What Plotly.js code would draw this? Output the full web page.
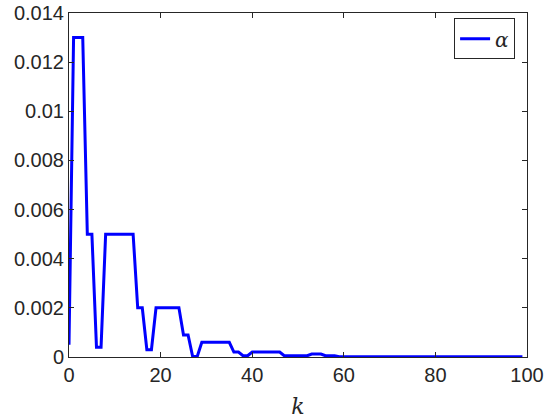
<!DOCTYPE html>
<html>
<head>
<meta charset="utf-8">
<script src="https://cdn.plot.ly/plotly-3.0.1.min.js"></script>
<style>
  html, body { margin: 0; padding: 0; background: #fff; }
  #chart { width: 550px; height: 420px; }
</style>
</head>
<body>
<div id="chart"></div>
<script>
// iteration index k = 0..99
const k = [];
for (let i = 0; i < 100; i++) k.push(i);

// alpha values
const alphaHead = [
  0.0005, 0.013, 0.013, 0.013, 0.005, 0.005, 0.0004, 0.0004, 0.005, 0.005,
  0.005, 0.005, 0.005, 0.005, 0.005, 0.002, 0.002, 0.0003, 0.0003, 0.002,
  0.002, 0.002, 0.002, 0.002, 0.002, 0.0009, 0.0009, 0.00002, 0.00002, 0.0006,
  0.0006, 0.0006, 0.0006, 0.0006, 0.0006, 0.0006, 0.0002, 0.0002, 0.00005, 0.00005,
  0.0002, 0.0002, 0.0002, 0.0002, 0.0002, 0.0002, 0.0002, 0.00005, 0.00005, 0.00005,
  0.00005, 0.00005, 0.00005, 0.00012, 0.00012, 0.00012, 0.00005, 0.00005, 0.00005, 0.00001
];
const alphaTail = [
  0.00001, 0.00001, 0.00001, 0.00001, 0.00001, 0.00001, 0.00001, 0.00001, 0.00001, 0.00001,
  0.00001, 0.00003, 0.00003, 0.00003, 0.00003, 0.00003, 0.00003, 0.00003, 0.00001, 0.00001,
  0.00001, 0.00001, 0.00001, 0.00001, 0.00001, 0.00001, 0.00001, 0.00001, 0.00001, 0.00001,
  0.00001, 0.00001, 0.00001, 0.00001, 0.00001, 0.00001, 0.00001, 0.00001, 0.00001, 0.00001
];
const alpha = alphaHead.concat(alphaTail);

const xTicks = [0, 20, 40, 60, 80, 100];
const yTicks = [0, 0.002, 0.004, 0.006, 0.008, 0.01, 0.012, 0.014];
const yTickText = ['0', '0.002', '0.004', '0.006', '0.008', '0.01', '0.012', '0.014'];

const axisColor = '#262626';
const font = { family: 'Liberation Sans, Arial, sans-serif', size: 20, color: axisColor };

const trace = {
  x: k,
  y: alpha,
  type: 'scatter',
  mode: 'lines',
  name: '<i>α</i>',
  line: { color: '#0000ff', width: 3 }
};

const layout = {
  width: 550,
  height: 420,
  margin: { l: 69, r: 23, t: 13, b: 63 },
  paper_bgcolor: '#fff',
  plot_bgcolor: '#fff',
  font: font,
  showlegend: true,
  legend: {
    x: 0.974, y: 0.925, xanchor: 'right', yanchor: 'middle',
    bgcolor: '#fff', bordercolor: axisColor, borderwidth: 1,
    itemwidth: 30, tracegroupgap: 0,
    font: { family: 'DejaVu Serif, serif', size: 20, color: axisColor }
  },
  xaxis: {
    range: [0, 100],
    tickvals: xTicks,
    ticks: 'inside', ticklen: 5, tickcolor: axisColor,
    showline: true, linecolor: axisColor, linewidth: 1, mirror: 'ticks',
    showgrid: false, zeroline: false,
    tickfont: font,
    title: { text: '<i>k</i>', font: { family: 'DejaVu Serif, serif', size: 22, color: axisColor }, standoff: 13 }
  },
  yaxis: {
    range: [0, 0.014],
    tickvals: yTicks, ticktext: yTickText,
    ticks: 'inside', ticklen: 5, tickcolor: axisColor,
    showline: true, linecolor: axisColor, linewidth: 1, mirror: 'ticks',
    showgrid: false, zeroline: false,
    tickfont: font
  }
};

Plotly.newPlot('chart', [trace], layout, { displayModeBar: false, staticPlot: true });
</script>
</body>
</html>
